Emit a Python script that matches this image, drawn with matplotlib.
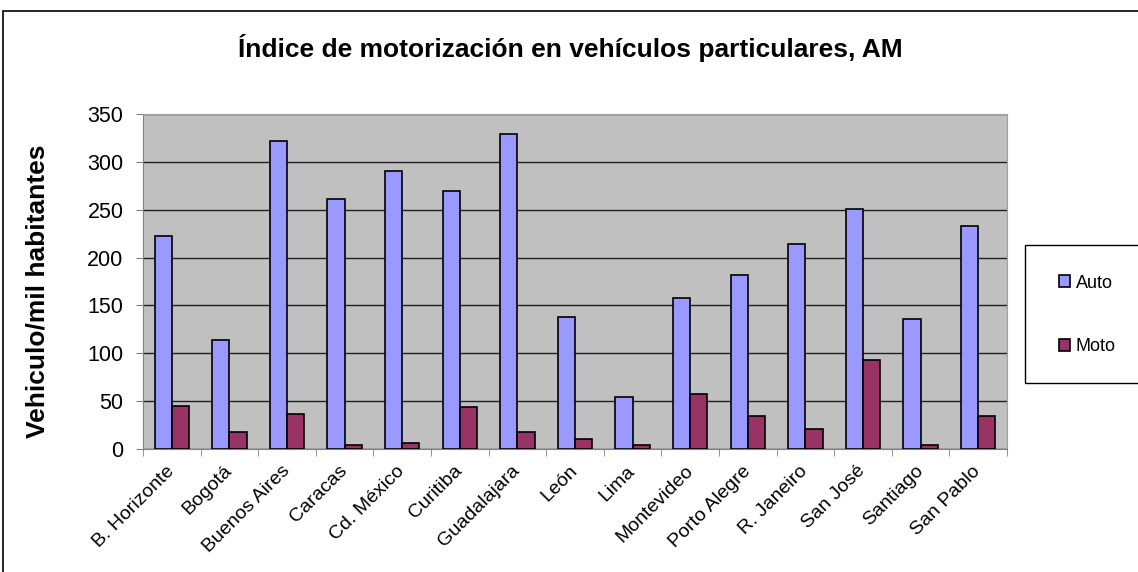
import numpy as np
import matplotlib.pyplot as plt
import matplotlib.transforms as mtransforms
from matplotlib.patches import Rectangle

plt.rcParams['font.family'] = ['Liberation Sans', 'DejaVu Sans']

cities = ['B. Horizonte', 'Bogotá', 'Buenos Aires', 'Caracas', 'Cd. México',
          'Curitiba', 'Guadalajara', 'León', 'Lima', 'Montevideo',
          'Porto Alegre', 'R. Janeiro', 'San José', 'Santiago', 'San Pablo']
auto = [223, 114, 322, 261, 290, 270, 329, 138, 54, 158, 182, 214, 251, 136, 233]
moto = [45, 18, 37, 4, 6, 44, 18, 10, 4, 57, 35, 21, 93, 4, 35]

W, H = 1138, 572
fig = plt.figure(figsize=(W / 100, H / 100), dpi=100)

# outer chart frame (cut off at right and bottom like the original)
fig.patches.append(Rectangle((3 / W, -0.1), 1.2, 1 - 11 / H + 0.1,
                             transform=fig.transFigure, fill=False,
                             edgecolor='black', linewidth=1.2))

ax = fig.add_axes([143 / W, 1 - 449 / H, (1007 - 143) / W, (449 - 114) / H])
ax.set_facecolor('#C0C0C0')

x = np.arange(len(cities))
w = 0.3
ax.bar(x - w / 2, auto, w, color='#9999FF', edgecolor='black', linewidth=1.2,
       label='Auto', zorder=3)
ax.bar(x + w / 2, moto, w, color='#993366', edgecolor='black', linewidth=1.2,
       label='Moto', zorder=3)

ax.set_xlim(-0.5, len(cities) - 0.5)
ax.set_ylim(0, 350)
ax.set_yticks(range(0, 351, 50))
ax.yaxis.grid(True, color='#202020', linewidth=1)
ax.set_axisbelow(True)

ax.set_xticks(x)
ax.set_xticklabels(cities, rotation=45, ha='right', va='center',
                   rotation_mode='anchor', fontsize=14)
shift = mtransforms.ScaledTranslation(-5 / 100, -2 / 100, fig.dpi_scale_trans)
for lab in ax.get_xticklabels():
    lab.set_transform(lab.get_transform() + shift)
ax.set_xticks(np.arange(-0.5, len(cities), 1), minor=True)
ax.tick_params(axis='x', which='major', length=0, pad=14)
ax.tick_params(axis='x', which='minor', length=5, direction='out', color='#808080')
ax.tick_params(axis='y', length=5, direction='out', labelsize=15.5, pad=9,
               color='#808080')

for s in ['top', 'right']:
    ax.spines[s].set_color('#A0A0A0')
for s in ['left', 'bottom']:
    ax.spines[s].set_color('#808080')

fig.text(570 / W, 1 - 48 / H, 'Índice de motorización en vehículos particulares, AM',
         ha='center', va='center', fontsize=19, fontweight='bold')
fig.text(38 / W, 1 - 291 / H, 'Vehiculo/mil habitantes', rotation=90,
         ha='center', va='center', fontsize=19, fontweight='bold')

# legend box
fig.patches.append(Rectangle((1025 / W, 1 - 383 / H), 0.2, (383 - 245) / H,
                             transform=fig.transFigure, facecolor='white',
                             edgecolor='black', linewidth=1))
fig.legend(loc='center left', bbox_to_anchor=(1043 / W, 1 - 315 / H),
           frameon=False, fontsize=13, handlelength=0.6, handleheight=0.6,
           handletextpad=0.3, labelspacing=2.6)

fig.savefig('out.png', dpi=100)
